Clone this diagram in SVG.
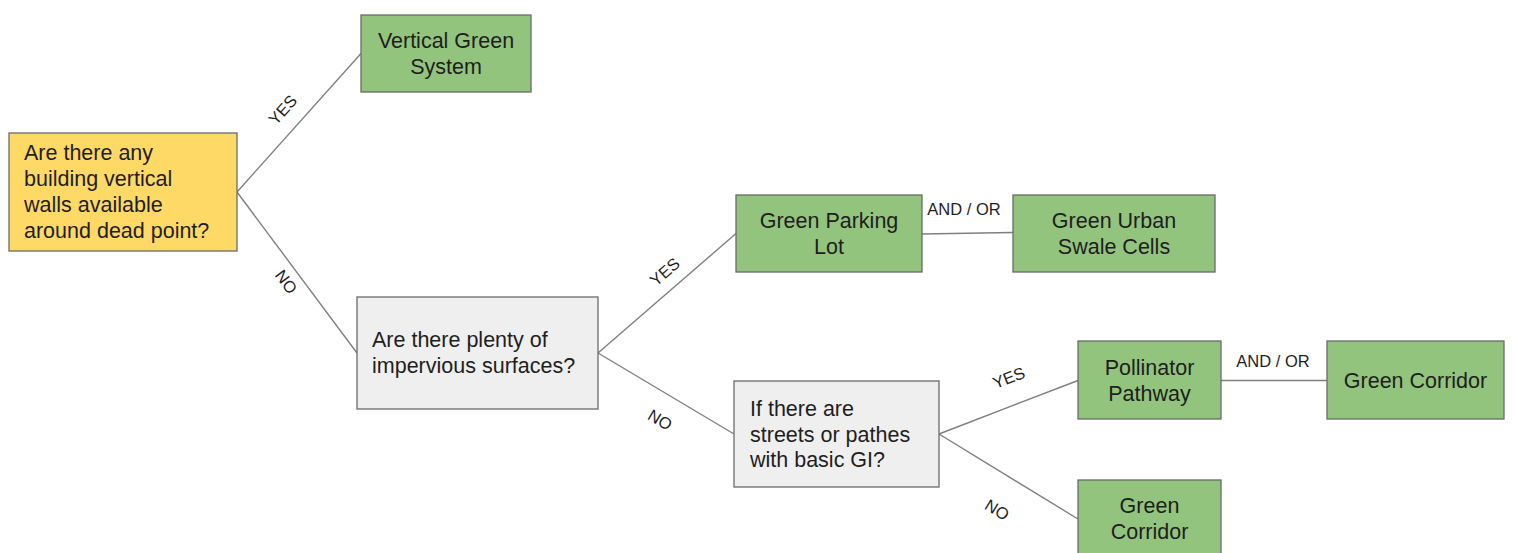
<svg xmlns="http://www.w3.org/2000/svg" width="1514" height="553" viewBox="0 0 1514 553">
<style>
.box{stroke:#6b6b6b;stroke-width:1.3}
.yellow{fill:#ffd966}
.green{fill:#93c47d}
.gray{fill:#efefef}
.t{font-family:"Liberation Sans",Arial,sans-serif;font-size:21.5px;fill:#1e1e1e}
.c{text-anchor:middle}
.lbl{font-family:"Liberation Sans",Arial,sans-serif;font-size:16.5px;fill:#1e1e1e;text-anchor:middle}
.edge{stroke:#808080;stroke-width:1.4;fill:none}
</style>
<rect width="1514" height="553" fill="#ffffff"/>
<g id="connectors">
<line class="edge" x1="237" y1="192" x2="361" y2="53.5"/>
<line class="edge" x1="237" y1="192" x2="357" y2="353"/>
<line class="edge" x1="598" y1="353" x2="736" y2="233.5"/>
<line class="edge" x1="598" y1="353" x2="734" y2="434"/>
<line class="edge" x1="922" y1="234" x2="1013" y2="232.5"/>
<line class="edge" x1="939" y1="434" x2="1078" y2="380.5"/>
<line class="edge" x1="939" y1="434" x2="1078" y2="519"/>
<line class="edge" x1="1221" y1="380.5" x2="1327" y2="380.5"/>
<text class="lbl" transform="translate(283,110) rotate(-48.2)" y="5.5">YES</text>
<text class="lbl" transform="translate(286,282) rotate(53.3)" y="5.5">NO</text>
<text class="lbl" transform="translate(665,272) rotate(-40.9)" y="5.5">YES</text>
<text class="lbl" transform="translate(660,420) rotate(30.8)" y="5.5">NO</text>
<text class="lbl" transform="translate(1009,378) rotate(-21.2)" y="5.5">YES</text>
<text class="lbl" transform="translate(997,510) rotate(31.4)" y="5.5">NO</text>
<text class="lbl" x="964" y="215">AND / OR</text>
<text class="lbl" x="1273" y="367">AND / OR</text>
</g>
<g id="q1">
<rect class="box yellow" x="9" y="133" width="228" height="118"/>
<text class="t" x="24" y="160">Are there any</text>
<text class="t" x="24" y="186">building vertical</text>
<text class="t" x="24" y="212">walls available</text>
<text class="t" x="24" y="238">around dead point?</text>
</g>
<g id="vertical-green">
<rect class="box green" x="361" y="15" width="170" height="77"/>
<text class="t c" x="446" y="48">Vertical Green</text>
<text class="t c" x="446" y="74">System</text>
</g>
<g id="q2">
<rect class="box gray" x="357" y="297" width="241" height="112"/>
<text class="t" x="372" y="347">Are there plenty of</text>
<text class="t" x="372" y="373">impervious surfaces?</text>
</g>
<g id="parking">
<rect class="box green" x="736" y="195" width="186" height="77"/>
<text class="t c" x="829" y="228">Green Parking</text>
<text class="t c" x="829" y="254">Lot</text>
</g>
<g id="swale">
<rect class="box green" x="1013" y="195" width="202" height="77"/>
<text class="t c" x="1114" y="228">Green Urban</text>
<text class="t c" x="1114" y="254">Swale Cells</text>
</g>
<g id="q3">
<rect class="box gray" x="734" y="381" width="205" height="106"/>
<text class="t" x="750" y="416">If there are</text>
<text class="t" x="750" y="442">streets or pathes</text>
<text class="t" x="750" y="467">with basic GI?</text>
</g>
<g id="pollinator">
<rect class="box green" x="1078" y="341" width="143" height="78"/>
<text class="t c" x="1149.5" y="375">Pollinator</text>
<text class="t c" x="1149.5" y="401">Pathway</text>
</g>
<g id="corridor-right">
<rect class="box green" x="1327" y="341" width="177" height="78"/>
<text class="t c" x="1415.5" y="388">Green Corridor</text>
</g>
<g id="corridor-bottom">
<rect class="box green" x="1078" y="480" width="143" height="78"/>
<text class="t c" x="1149.5" y="513">Green</text>
<text class="t c" x="1149.5" y="539">Corridor</text>
</g>
</svg>
